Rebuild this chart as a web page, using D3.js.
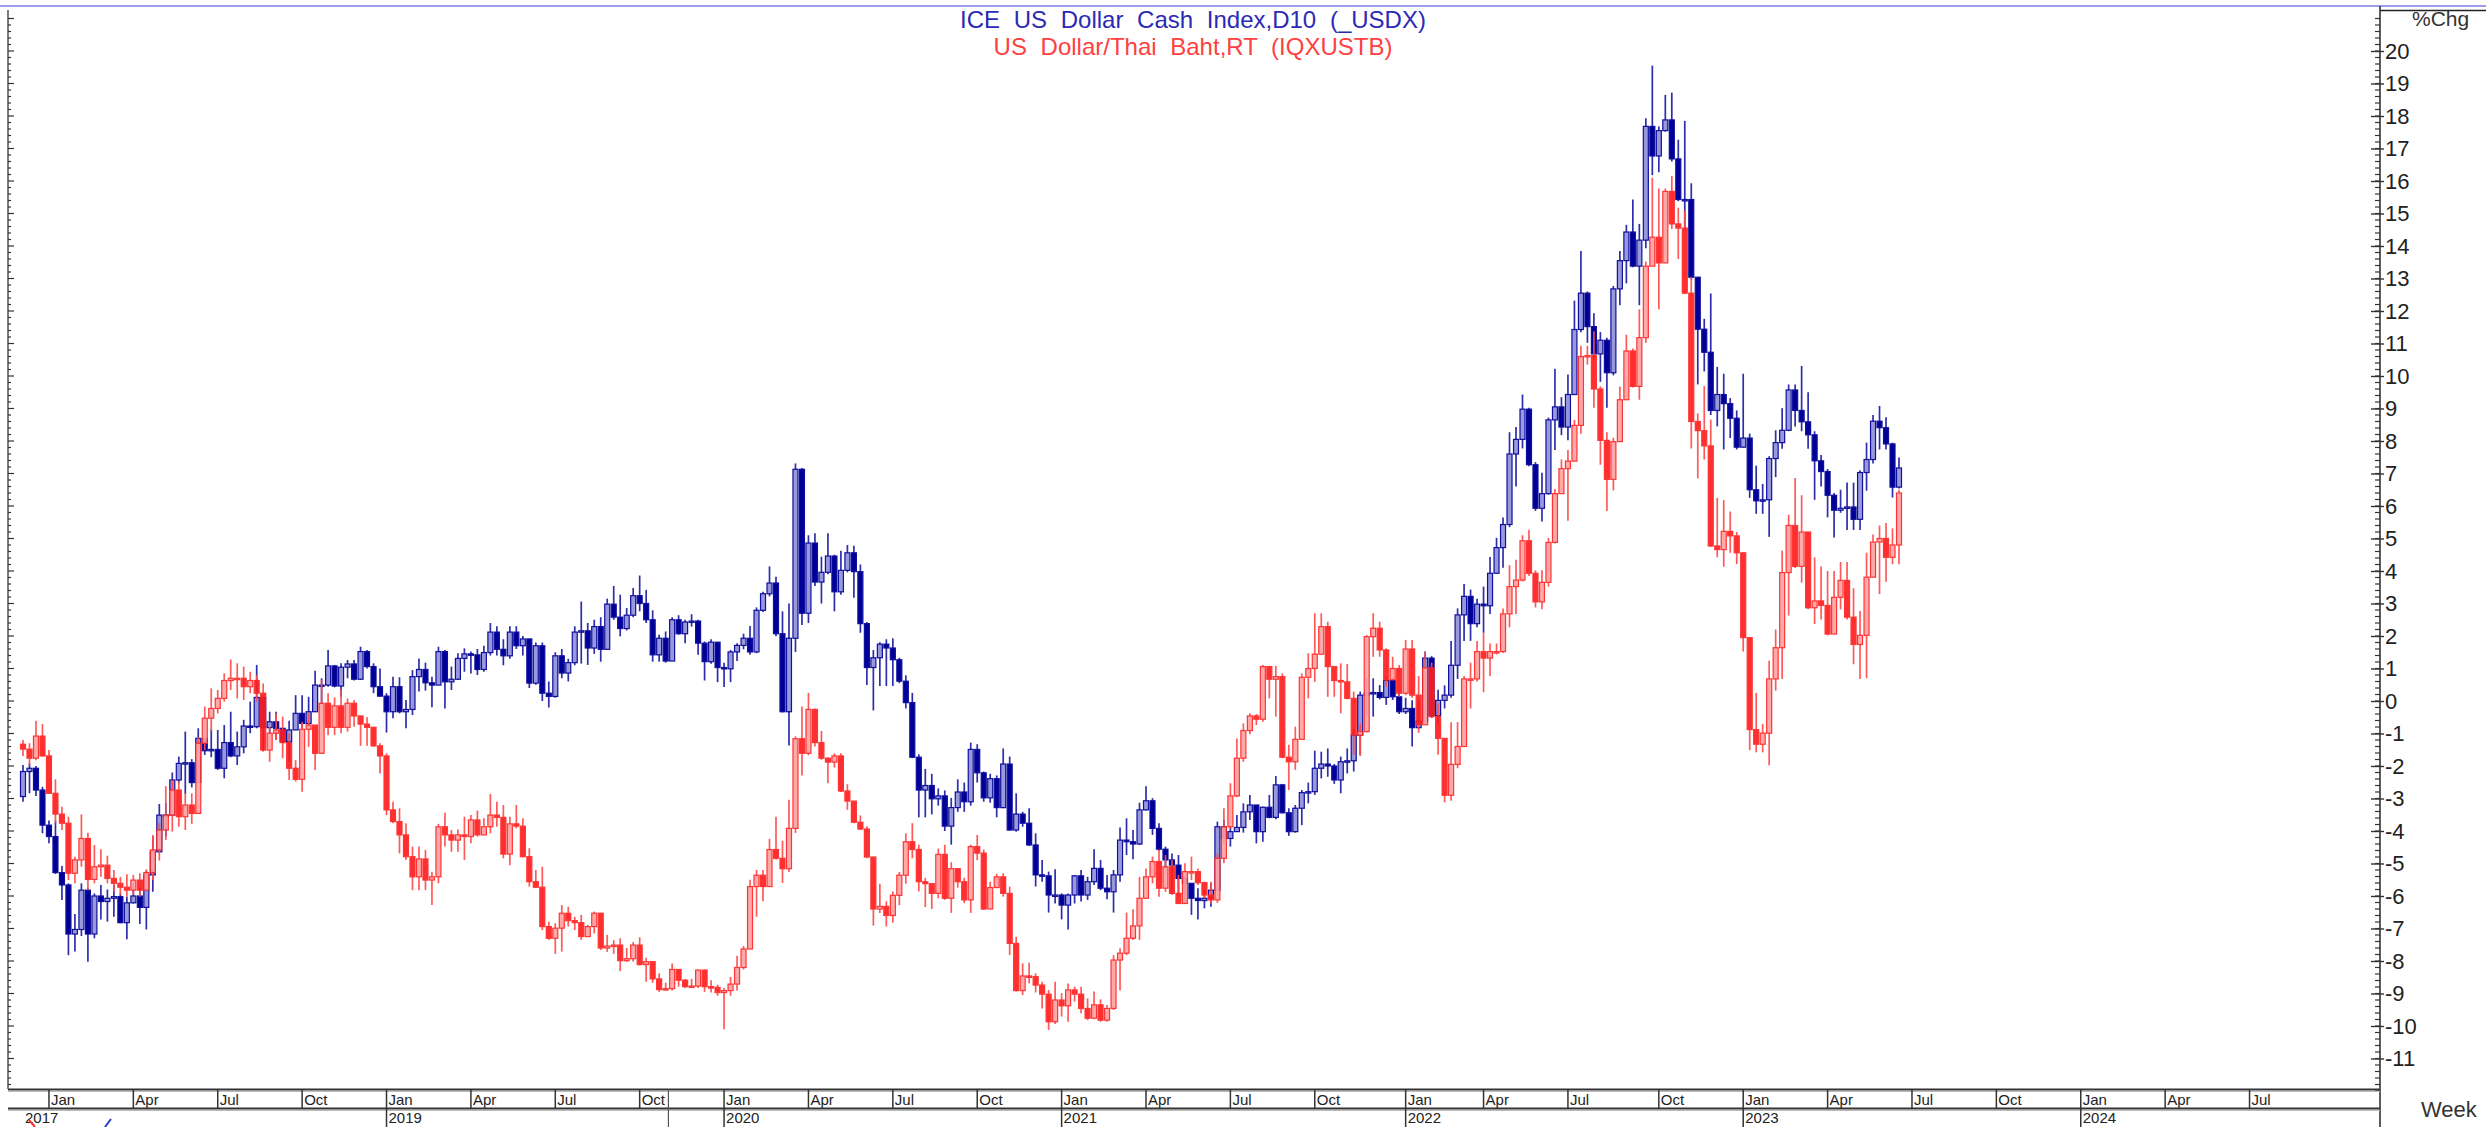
<!DOCTYPE html>
<html>
<head>
<meta charset="utf-8">
<script src="https://cdn.jsdelivr.net/npm/d3@7"></script>
<style>
  html, body { margin: 0; padding: 0; background: #ffffff; }
  svg { display: block; }
</style>
</head>
<body>
<svg id="chart" width="2486" height="1127"></svg>
<script>
// Weekly candles, % change: ICE US Dollar Index vs US Dollar / Thai Baht

// ---- ICE US Dollar Cash Index (_USDX), weekly, % change ----
const usdxFirstOpen = -2.94;
const usdxClose = [
  -2.17,-2.07,-2.74,-3.82,-4.17,-5.28,-5.66,-7.17,-7.03,-5.82,
  -7.17,-6.00,-6.17,-6.07,-6.02,-6.82,-6.21,-6.00,-6.35,-5.35,
  -4.64,-3.51,-3.51,-2.43,-1.92,-1.90,-2.51,-1.15,-1.53,-1.49,
  -2.07,-1.28,-1.69,-1.41,-0.77,-0.79,0.11,-0.82,-0.64,-0.84,
  -1.25,-0.89,-0.38,-0.69,-0.33,0.49,0.49,1.08,0.46,1.04,
  1.14,0.67,1.52,1.06,0.44,0.15,-0.33,0.44,-0.33,-0.26,
  0.75,0.97,0.56,0.49,1.52,0.59,0.67,1.31,1.45,1.42,
  0.97,1.49,2.12,1.59,1.39,2.12,1.70,1.91,0.55,1.70,
  0.24,0.14,1.39,0.86,1.18,2.12,2.16,1.63,2.29,1.59,
  2.98,2.58,2.23,2.64,3.24,3.00,2.50,1.42,1.93,1.23,
  2.50,2.07,2.43,2.46,1.78,1.21,1.81,1.03,0.99,1.51,
  1.71,1.93,1.51,2.79,3.30,3.63,2.07,-0.33,1.93,7.13,
  2.70,4.86,3.66,3.96,4.46,3.36,4.02,4.56,3.98,2.38,
  1.03,1.33,1.75,1.63,1.27,0.61,-0.05,-1.73,-2.74,-2.60,
  -3.01,-2.92,-3.85,-3.28,-2.80,-3.10,-1.49,-2.21,-2.98,-2.39,
  -3.28,-1.94,-3.97,-3.48,-3.76,-4.43,-5.35,-5.38,-5.97,-5.97,
  -6.28,-5.97,-5.38,-5.97,-5.56,-5.15,-5.76,-5.87,-5.35,-4.28,
  -4.33,-4.40,-3.35,-3.07,-3.92,-4.56,-4.89,-5.05,-5.46,-5.61,
  -6.07,-6.14,-6.07,-5.82,-3.87,-4.23,-4.02,-3.89,-3.41,-3.20,
  -4.02,-3.27,-3.58,-2.58,-3.44,-4.02,-3.30,-2.82,-2.79,-2.07,
  -1.94,-2.00,-2.43,-1.87,-1.84,-1.05,0.18,0.24,0.26,0.11,
  0.63,0.13,-0.33,-0.23,-0.82,-0.62,1.32,-0.45,0.02,0.18,
  1.10,2.65,3.22,2.38,2.98,2.93,3.93,4.72,5.43,7.60,
  8.05,8.98,7.27,5.93,6.38,8.65,9.05,8.43,9.43,11.43,
  12.55,11.52,10.68,11.10,10.10,12.68,13.55,14.43,13.38,14.18,
  17.68,16.77,17.55,17.88,16.68,15.43,15.43,13.04,11.44,10.73,
  8.94,9.43,9.15,8.70,7.81,8.09,6.50,6.16,6.19,7.46,
  7.95,8.33,9.57,8.94,8.59,8.19,7.39,7.06,6.33,5.87,
  5.93,5.97,5.59,7.03,7.43,8.61,8.41,7.91,6.58,7.17
];
const usdxHigh = [
  -1.97,-1.92,-2.00,-2.64,-3.68,-3.68,-5.08,-5.61,-6.55,-5.61,
  -5.76,-5.92,-5.66,-5.80,-5.66,-5.92,-6.02,-5.61,-5.76,-5.22,
  -4.17,-3.17,-3.13,-2.20,-1.71,-0.94,-1.79,-0.84,-1.15,-0.87,
  -0.89,-0.74,-0.33,-0.94,-0.58,-0.02,1.11,-0.28,-0.33,-0.33,
  -0.94,-0.61,0.18,0.18,0.13,0.93,0.70,1.57,1.11,1.16,
  1.26,1.26,1.67,1.57,1.16,1.00,0.24,0.75,0.73,0.03,
  0.95,1.31,1.18,0.75,1.67,1.57,1.06,1.47,1.62,1.52,
  1.60,1.70,2.40,2.30,1.90,2.30,2.30,2.00,1.90,1.80,
  1.80,0.60,1.50,1.60,1.30,2.30,3.06,2.40,2.50,2.58,
  3.15,3.54,3.27,2.86,3.48,3.86,3.42,2.79,2.04,2.14,
  2.58,2.64,2.50,2.67,2.50,1.83,1.90,1.81,1.18,1.57,
  1.78,2.07,2.31,2.88,3.36,4.14,3.82,2.76,3.00,7.31,
  7.17,5.10,5.16,4.44,5.16,4.50,4.62,4.80,4.78,4.20,
  2.43,1.57,1.81,1.90,1.93,1.33,0.79,0.25,-1.64,-2.09,
  -2.24,-2.69,-2.75,-2.98,-2.41,-2.51,-1.28,-1.33,-2.17,-2.24,
  -2.29,-1.46,-1.71,-2.84,-3.41,-3.30,-4.07,-4.89,-5.25,-5.18,
  -5.92,-5.92,-5.35,-5.20,-5.41,-4.56,-4.89,-5.35,-5.20,-3.89,
  -3.61,-3.97,-3.13,-2.62,-2.99,-3.76,-4.48,-4.69,-4.74,-5.41,
  -5.82,-5.76,-5.82,-5.61,-3.71,-3.66,-3.87,-3.51,-3.15,-2.89,
  -3.20,-3.25,-2.89,-2.31,-2.55,-3.30,-3.20,-2.74,-2.51,-1.53,
  -1.56,-1.46,-1.94,-1.71,-1.46,-0.84,0.29,0.70,0.70,0.49,
  0.75,0.70,0.24,0.10,0.02,0.02,1.52,1.38,0.35,0.48,
  1.85,2.85,3.60,3.43,3.15,3.52,4.43,5.02,5.65,8.27,
  8.43,9.43,9.02,7.35,7.02,8.72,10.22,9.35,10.05,12.32,
  13.85,12.60,11.93,11.35,11.18,12.77,13.85,14.65,15.43,14.68,
  17.93,19.55,17.68,18.65,18.72,17.27,17.85,15.93,11.76,11.76,
  12.54,10.28,10.07,9.32,8.94,10.07,8.23,7.24,6.68,7.53,
  8.33,9.01,9.74,9.74,10.31,9.50,8.30,7.57,7.14,6.40,
  6.50,6.72,6.72,7.10,7.95,8.80,9.08,8.73,7.95,7.49
];
const usdxLow = [
  -3.10,-2.84,-2.92,-4.07,-4.38,-5.32,-6.12,-7.82,-7.71,-7.23,
  -8.02,-7.30,-6.72,-6.79,-6.64,-6.84,-7.33,-6.23,-6.86,-7.03,
  -5.87,-4.09,-4.17,-2.86,-2.51,-2.86,-2.66,-1.35,-1.66,-1.73,
  -2.12,-2.38,-1.73,-1.97,-1.61,-0.99,-0.84,-1.51,-0.99,-1.20,
  -1.30,-1.87,-0.89,-0.84,-0.74,-0.17,-0.12,0.44,0.42,0.13,
  0.70,0.63,0.65,1.00,0.24,0.13,-0.97,-0.53,-0.38,-0.84,
  -0.43,0.29,0.32,-0.19,0.54,-0.23,0.34,0.65,0.90,0.85,
  0.80,0.90,1.40,1.40,1.10,1.30,1.60,1.40,0.40,0.50,
  0.00,-0.20,0.10,0.70,0.60,1.10,1.15,1.11,1.45,1.21,
  1.59,2.50,1.99,2.17,2.58,2.76,2.40,1.21,1.21,1.18,
  1.23,2.04,1.78,2.29,1.42,0.63,1.15,0.58,0.43,0.58,
  1.23,1.59,1.42,1.47,2.74,3.22,1.99,-0.35,-1.37,1.51,
  2.34,2.40,3.54,3.00,3.90,2.76,3.27,3.96,3.18,2.10,
  0.49,-0.29,0.46,0.46,0.46,0.55,-0.23,-1.76,-3.58,-3.58,
  -3.49,-3.22,-4.00,-4.42,-3.41,-3.41,-3.22,-2.51,-3.10,-3.13,
  -3.58,-3.30,-3.99,-4.02,-3.87,-4.46,-5.71,-5.56,-6.51,-6.23,
  -6.72,-7.03,-6.23,-6.17,-6.12,-5.66,-5.82,-6.10,-6.51,-5.56,
  -4.74,-4.87,-4.43,-3.37,-4.12,-4.61,-5.15,-5.92,-6.02,-6.23,
  -6.58,-6.72,-6.38,-6.33,-5.84,-4.38,-4.48,-4.02,-4.05,-3.66,
  -4.38,-4.33,-3.61,-3.64,-3.46,-4.15,-4.05,-3.82,-3.15,-2.89,
  -2.38,-2.33,-2.55,-2.84,-2.23,-2.17,-1.66,-0.48,-0.48,0.05,
  -0.12,0.03,-0.40,-0.40,-1.40,-0.85,-0.65,-0.52,-0.73,-0.23,
  0.10,0.68,1.85,1.85,2.27,2.10,2.68,4.02,4.10,5.35,
  6.60,7.77,7.22,5.85,5.52,6.35,7.72,8.18,8.02,9.43,
  11.35,11.02,10.52,9.82,9.02,10.02,12.18,12.85,13.35,12.18,
  13.93,16.18,16.27,17.52,16.60,15.38,14.52,12.97,9.74,10.14,
  8.80,8.45,7.74,8.09,7.74,7.88,6.25,5.76,5.76,5.05,
  6.89,7.76,8.30,8.45,8.30,7.76,6.19,6.60,5.65,5.03,
  5.79,5.26,5.26,5.26,6.47,7.31,7.74,7.74,6.26,6.54
];

// ---- US Dollar / Thai Baht (IQXUSTB), weekly, % change ----
const thbFirstOpen = -1.33;
const thbClose = [
  -1.48,-1.76,-1.08,-1.69,-2.84,-3.48,-3.76,-5.30,-4.89,-4.23,
  -5.49,-5.10,-5.05,-5.46,-5.61,-5.73,-5.82,-5.51,-5.82,-5.28,
  -4.58,-3.97,-3.51,-2.74,-3.56,-3.20,-3.46,-1.30,-0.53,-0.23,
  0.08,0.63,0.70,0.70,0.44,0.63,0.24,-1.51,-0.99,-0.89,
  -1.28,-2.07,-2.41,-0.87,-0.74,-1.61,-0.07,-0.81,-0.15,-0.81,
  -0.07,-0.46,-0.71,-0.81,-1.38,-1.69,-3.35,-3.71,-4.12,-4.79,
  -5.41,-4.86,-5.51,-5.41,-3.87,-4.12,-4.28,-4.12,-4.17,-3.66,
  -4.12,-3.87,-3.51,-3.58,-4.71,-3.78,-3.85,-4.79,-5.56,-5.73,
  -6.94,-7.30,-6.99,-6.53,-6.76,-6.82,-7.25,-6.94,-6.53,-7.60,
  -7.54,-7.51,-7.99,-7.93,-7.51,-8.11,-8.02,-8.55,-8.88,-8.85,
  -8.26,-8.59,-8.79,-8.77,-8.28,-8.79,-8.81,-8.97,-8.91,-8.71,
  -8.20,-7.63,-5.71,-5.36,-5.71,-4.57,-4.84,-5.16,-3.92,-1.16,
  -1.61,-0.26,-1.28,-1.76,-1.88,-1.69,-2.77,-3.08,-3.73,-3.94,
  -4.80,-6.40,-6.32,-6.60,-5.98,-5.36,-4.33,-4.57,-5.56,-5.62,
  -5.92,-4.72,-6.07,-5.16,-5.56,-6.12,-4.48,-4.68,-6.40,-5.74,
  -5.41,-5.92,-7.46,-8.91,-8.46,-8.48,-8.74,-9.02,-9.87,-9.20,
  -9.38,-8.89,-9.02,-9.46,-9.76,-9.35,-9.82,-9.46,-7.97,-7.76,
  -7.30,-6.92,-6.07,-5.41,-4.94,-5.76,-5.10,-5.92,-6.23,-5.25,
  -5.25,-5.59,-5.97,-6.12,-4.84,-3.87,-2.92,-1.76,-0.91,-0.46,
  -0.56,1.06,0.67,0.75,-1.73,-1.87,-1.18,0.73,1.00,1.44,
  2.29,1.06,0.63,0.59,0.08,-1.05,-0.94,1.98,2.24,1.57,
  0.65,1.00,0.24,1.60,0.18,-0.73,1.02,-0.48,-1.15,-2.90,
  -1.95,-1.40,0.68,0.68,1.52,1.32,1.52,1.52,2.68,3.52,
  3.72,4.93,3.93,3.05,3.65,4.88,6.38,7.15,7.38,8.48,
  10.60,10.63,9.60,8.02,6.82,7.98,9.27,10.77,9.68,11.18,
  13.38,14.27,13.48,15.68,14.68,14.55,12.55,8.60,8.32,7.85,
  4.77,4.66,5.22,5.08,4.56,1.95,-0.88,-1.33,-0.99,0.68,
  1.64,3.95,5.40,4.14,5.20,2.87,3.08,2.94,2.06,3.19,
  3.71,2.58,1.74,2.02,3.81,4.89,5.00,4.42,4.80,6.40
];
const thbHigh = [
  -1.20,-1.30,-0.61,-0.71,-1.51,-2.41,-3.25,-3.56,-4.79,-3.49,
  -4.05,-4.43,-4.56,-4.76,-5.20,-5.41,-5.33,-5.35,-5.30,-5.18,
  -4.12,-3.76,-2.62,-2.43,-2.48,-2.84,-2.84,-1.12,-0.17,0.39,
  0.34,0.85,1.28,1.16,1.06,0.90,0.80,0.54,-0.79,-0.38,
  -0.48,-0.99,-1.82,-0.64,-0.38,-0.79,0.65,0.24,0.11,0.36,
  0.08,0.03,-0.53,-0.50,-0.79,-1.30,-1.61,-3.10,-3.30,-3.76,
  -4.48,-4.48,-4.58,-5.25,-3.78,-3.44,-3.97,-3.95,-3.56,-3.51,
  -3.37,-3.61,-2.86,-3.10,-3.20,-3.56,-3.20,-3.61,-4.53,-5.20,
  -5.10,-6.79,-6.84,-6.28,-6.33,-6.64,-6.58,-6.89,-6.48,-6.52,
  -7.20,-7.36,-7.30,-7.60,-7.42,-7.27,-7.90,-8.14,-8.38,-8.67,
  -8.08,-8.26,-8.55,-8.55,-8.26,-8.26,-8.59,-8.73,-8.83,-8.49,
  -7.84,-7.54,-5.50,-5.20,-5.20,-4.24,-3.56,-4.30,-3.04,-1.09,
  -0.17,0.25,-0.23,-0.92,-1.73,-1.61,-1.61,-2.56,-3.10,-3.52,
  -3.85,-4.80,-5.62,-6.16,-5.86,-5.26,-4.07,-3.76,-4.42,-5.44,
  -5.68,-4.54,-4.42,-4.96,-5.14,-5.44,-4.42,-4.12,-4.57,-5.56,
  -5.32,-5.30,-5.71,-7.25,-8.07,-8.05,-8.38,-8.64,-8.89,-8.64,
  -8.99,-8.69,-8.79,-8.79,-9.15,-8.94,-9.18,-9.35,-7.82,-7.61,
  -6.51,-6.41,-5.41,-5.15,-4.79,-4.58,-4.74,-4.89,-5.35,-4.99,
  -4.79,-5.15,-5.56,-5.56,-4.69,-3.30,-2.53,-1.15,-0.69,-0.38,
  -0.40,1.11,1.06,1.08,0.85,-1.35,-0.79,0.85,1.47,2.70,
  2.70,2.44,1.00,1.16,1.14,0.29,-0.69,2.03,2.70,2.44,
  1.62,1.36,1.11,1.88,1.88,0.77,1.52,1.18,-0.07,-1.15,
  -0.65,-0.65,0.77,1.18,1.85,2.10,1.77,1.77,2.85,4.18,
  4.35,5.10,5.27,4.02,4.02,5.02,6.52,7.43,7.72,8.65,
  10.93,10.93,11.38,9.68,8.27,8.10,9.68,11.27,10.85,12.05,
  13.52,16.10,15.77,15.77,16.15,15.18,15.10,13.05,8.85,9.69,
  8.66,6.25,6.18,5.83,5.20,4.52,1.81,0.25,-0.71,1.24,
  2.20,4.63,5.73,6.86,6.33,4.77,4.42,4.14,4.00,4.00,
  4.28,4.28,3.47,2.77,4.56,5.12,5.40,5.48,5.31,6.50
];
const thbLow = [
  -1.69,-1.97,-1.82,-1.71,-2.86,-3.76,-3.97,-5.51,-5.61,-5.10,
  -5.82,-5.61,-5.41,-5.61,-5.87,-5.97,-6.02,-5.97,-6.02,-5.76,
  -5.51,-4.91,-4.28,-4.02,-3.87,-3.97,-3.78,-3.46,-1.51,-0.94,
  -0.38,-0.02,0.34,0.08,0.03,0.24,-0.02,-1.56,-1.87,-1.20,
  -1.76,-2.43,-2.48,-2.79,-1.41,-2.12,-1.61,-1.05,-1.05,-0.99,
  -0.94,-0.79,-1.38,-1.38,-1.41,-2.23,-3.51,-3.76,-4.69,-4.89,
  -5.82,-5.82,-5.82,-6.28,-5.61,-4.48,-4.64,-4.64,-4.89,-4.38,
  -4.17,-4.12,-4.07,-3.87,-4.84,-5.05,-3.92,-4.81,-5.71,-5.76,
  -7.05,-7.35,-7.78,-7.71,-6.94,-7.05,-7.35,-7.25,-7.15,-7.66,
  -7.72,-7.78,-8.31,-8.02,-8.02,-8.14,-8.64,-8.67,-8.95,-8.91,
  -8.91,-8.79,-8.83,-8.83,-8.83,-8.95,-8.97,-9.07,-10.10,-9.07,
  -8.91,-8.26,-7.60,-6.64,-6.16,-5.68,-4.88,-5.60,-5.26,-4.06,
  -2.29,-1.67,-1.40,-1.81,-2.53,-2.05,-2.80,-3.35,-3.76,-3.97,
  -4.84,-6.91,-6.52,-6.94,-6.82,-6.28,-5.62,-4.84,-5.86,-6.34,
  -6.40,-6.07,-6.12,-6.52,-5.74,-6.22,-6.52,-4.90,-6.43,-6.40,
  -5.74,-6.02,-7.82,-8.94,-9.05,-8.69,-8.97,-9.46,-10.12,-9.94,
  -9.71,-9.87,-9.25,-9.61,-9.82,-9.79,-9.87,-9.87,-9.51,-8.91,
  -7.82,-7.35,-7.35,-6.04,-5.61,-6.02,-5.87,-5.97,-6.25,-6.12,
  -5.51,-5.66,-6.07,-6.23,-6.21,-4.99,-3.92,-2.96,-1.87,-1.02,
  -0.74,-0.64,0.08,-0.48,-1.76,-2.74,-2.12,-1.20,0.08,0.59,
  1.52,0.13,0.13,-0.38,0.05,-1.66,-1.69,-0.97,1.36,1.36,
  0.44,0.65,0.13,0.18,0.10,-0.98,-0.57,-0.52,-1.65,-3.12,
  -3.07,-2.07,-1.40,-0.23,0.60,0.27,0.77,1.43,1.48,2.27,
  2.68,3.68,3.85,2.88,2.82,3.52,4.85,6.38,5.55,7.43,
  8.22,10.35,9.02,7.27,5.85,6.48,7.98,9.35,9.65,9.27,
  11.02,13.43,12.05,13.52,14.52,13.60,12.52,7.77,6.85,7.43,
  4.74,4.42,4.13,4.56,4.21,1.52,-1.51,-1.58,-1.58,-1.98,
  0.32,0.68,2.63,4.09,3.64,2.82,2.37,2.51,2.02,2.30,
  2.82,2.51,1.13,0.68,0.70,3.95,3.29,3.67,4.21,4.21
];

// ---- axis contents ----
const firstWeek = new Date(2017, 11, 8);          // Friday of the first weekly bar
const yTickValues = d3.range(-11, 21);             // labelled %Chg levels
const quarterNames = ["Jan", "Apr", "Jul", "Oct"];
const yearNames = ["2017", "2019", "2020", "2021", "2022", "2023", "2024"];
const yearStarts = [firstWeek, new Date(2019,0,1), new Date(2020,0,1), new Date(2021,0,1),
                    new Date(2022,0,1), new Date(2023,0,1), new Date(2024,0,1)];
const seriesTitles = ["ICE US Dollar Cash Index,D10 (_USDX)", "US Dollar/Thai Baht,RT (IQXUSTB)"];

// ---- layout ----
const W = 2486, H = 1127;
const plotLeft = 8, plotRight = 2380, plotTop = 8, plotBottom = 1089;
const rowMid = 1108;

const svg = d3.select("#chart");
const FONT = "'Liberation Sans', Arial, Helvetica, sans-serif";
const NARROW = "'Liberation Sans Narrow', 'Arial Narrow', 'Liberation Sans', Arial, sans-serif";

const weekDates = usdxClose.map((_, i) => d3.timeDay.offset(firstWeek, 7 * i));
const x = d3.scaleTime()
  .domain([firstWeek, weekDates[weekDates.length - 1]])
  .range([23, 1899]);
const y = d3.scaleLinear().domain([-10, 20]).range([1026, 51]);

function buildCandles(close, high, low, firstOpen) {
  return close.map((c, i) => {
    const o = i === 0 ? firstOpen : close[i - 1];
    return {
      date: weekDates[i], o, c,
      h: Math.max(high[i], o, c),
      l: Math.min(low[i], o, c)
    };
  });
}

const usdx = buildCandles(usdxClose, usdxHigh, usdxLow, usdxFirstOpen);
const thb = buildCandles(thbClose, thbHigh, thbLow, thbFirstOpen);

// frame lines at the top
svg.append("line").attr("x1", 0).attr("x2", W).attr("y1", 6).attr("y2", 6)
  .attr("stroke", "#7c7ce0").attr("stroke-width", 1.6);
svg.append("line").attr("x1", plotRight).attr("x2", W).attr("y1", 10.5).attr("y2", 10.5)
  .attr("stroke", "#222").attr("stroke-width", 1.4);

// clip for the candles
svg.append("defs").append("clipPath").attr("id", "plotClip")
  .append("rect").attr("x", plotLeft).attr("y", plotTop)
  .attr("width", plotRight - plotLeft).attr("height", plotBottom - plotTop);

function drawSeries(data, st) {
  const g = svg.append("g").attr("clip-path", "url(#plotClip)").attr("opacity", st.opacity);
  g.selectAll("line.wick").data(data).join("line")
    .attr("class", "wick")
    .attr("x1", d => x(d.date)).attr("x2", d => x(d.date))
    .attr("y1", d => y(d.h)).attr("y2", d => y(d.l))
    .attr("stroke", st.wick).attr("stroke-width", 1.7);
  g.selectAll("rect.body").data(data).join("rect")
    .attr("class", "body")
    .attr("x", d => x(d.date) - 2.5)
    .attr("width", 5)
    .attr("y", d => y(Math.max(d.o, d.c)))
    .attr("height", d => Math.max(1.4, Math.abs(y(d.o) - y(d.c))))
    .attr("fill", d => d.c >= d.o ? st.hollow : st.solid)
    .attr("stroke", st.edge)
    .attr("stroke-width", 1.2);
}

drawSeries(usdx, { wick: "#2e2eac", edge: "#10109c", solid: "#000098", hollow: "#9898dc", opacity: 1 });
drawSeries(thb,  { wick: "#ff4c4c", edge: "#ff2424", solid: "#ff1e1e", hollow: "#ffa2a2", opacity: 0.92 });

// titles
svg.append("text").attr("x", 1193).attr("y", 28).attr("text-anchor", "middle")
  .attr("font-family", FONT).attr("font-size", 24).attr("word-spacing", 7)
  .attr("fill", "#2a2ab4").text(seriesTitles[0]);
svg.append("text").attr("x", 1193).attr("y", 55).attr("text-anchor", "middle")
  .attr("font-family", FONT).attr("font-size", 24).attr("word-spacing", 7)
  .attr("fill", "#ff4040").text(seriesTitles[1]);

// right value axis
const minorVals = d3.range(-60, 106).map(k => k / 5);
const axisG = svg.append("g").attr("transform", `translate(${plotRight},0)`);
axisG.selectAll("line.minor").data(minorVals).join("line")
  .attr("class", "minor")
  .attr("x1", -5).attr("x2", 0)
  .attr("y1", d => y(d)).attr("y2", d => y(d))
  .attr("stroke", "#333").attr("stroke-width", 1.2);
const rightAxis = d3.axisRight(y)
  .tickValues(yTickValues)
  .tickSizeInner(0).tickSizeOuter(0)
  .tickPadding(5)
  .tickFormat(d => String(d));
axisG.call(rightAxis);
axisG.select(".domain").remove();
axisG.selectAll(".tick text")
  .attr("font-family", FONT).attr("font-size", 22).attr("fill", "#222");
axisG.selectAll(".tick").append("line")
  .attr("x1", -9).attr("x2", 4).attr("stroke", "#333").attr("stroke-width", 1.4);
axisG.append("line").attr("x1", 0).attr("x2", 0).attr("y1", 6).attr("y2", H)
  .attr("stroke", "#333").attr("stroke-width", 1.6);

svg.append("text").attr("x", 2412).attr("y", 26)
  .attr("font-family", FONT).attr("font-size", 21).attr("fill", "#333").text("%Chg");

// left edge scale (ticks only)
const leftG = svg.append("g").attr("transform", `translate(${plotLeft},0)`);
leftG.append("line").attr("x1", 0).attr("x2", 0).attr("y1", 10).attr("y2", plotBottom)
  .attr("stroke", "#444").attr("stroke-width", 1.4);
leftG.selectAll("line.lminor").data(minorVals.filter(v => y(v) > 10 && y(v) < plotBottom)).join("line")
  .attr("class", "lminor")
  .attr("x1", 0).attr("x2", d => Math.abs(d - Math.round(d)) < 1e-6 ? 6 : 3)
  .attr("y1", d => y(d)).attr("y2", d => y(d))
  .attr("stroke", "#333").attr("stroke-width", 1.2);

// time axis rows
const rowsG = svg.append("g");
[plotBottom + 0.5, rowMid + 0.5].forEach(yy => {
  rowsG.append("line").attr("x1", plotLeft).attr("x2", plotRight).attr("y1", yy).attr("y2", yy)
    .attr("stroke", "#333").attr("stroke-width", 2);
  rowsG.append("line").attr("x1", plotLeft).attr("x2", plotRight).attr("y1", yy + 2).attr("y2", yy + 2)
    .attr("stroke", "#bbb").attr("stroke-width", 1);
});

const quarters = d3.timeMonth.every(3).range(new Date(2018, 0, 1), new Date(2024, 7, 1));
const qPos = quarters.map(m => ({ m, px: x(d3.timeFriday.ceil(m)) }));
rowsG.selectAll("line.qdiv").data(qPos).join("line")
  .attr("class", "qdiv")
  .attr("x1", d => d.px).attr("x2", d => d.px)
  .attr("y1", plotBottom).attr("y2", rowMid)
  .attr("stroke", "#333").attr("stroke-width", 1.5);
rowsG.selectAll("text.qlab").data(qPos).join("text")
  .attr("class", "qlab")
  .attr("x", d => d.px + 2).attr("y", rowMid - 3)
  .attr("font-family", NARROW).attr("font-size", 15).attr("fill", "#222")
  .text(d => quarterNames[Math.floor(d.m.getMonth() / 3)]);

const yPos = yearStarts.map((d, i) => ({
  text: yearNames[i],
  px: i === 0 ? x(d) : x(d3.timeFriday.ceil(d)),
  divider: i > 0
}));
rowsG.selectAll("line.ydiv").data(yPos.filter(d => d.divider)).join("line")
  .attr("class", "ydiv")
  .attr("x1", d => d.px).attr("x2", d => d.px)
  .attr("y1", rowMid).attr("y2", H)
  .attr("stroke", "#333").attr("stroke-width", 1.5);
rowsG.selectAll("text.ylab").data(yPos).join("text")
  .attr("class", "ylab")
  .attr("x", d => d.px + 2).attr("y", H - 4)
  .attr("font-family", NARROW).attr("font-size", 15).attr("fill", "#222")
  .text(d => d.text);

// session break marker in the time rows
const breakX = x(new Date(2019, 10, 4));
rowsG.append("line").attr("x1", breakX).attr("x2", breakX)
  .attr("y1", plotBottom).attr("y2", H).attr("stroke", "#555").attr("stroke-width", 1.2);

// small scroll markers at the bottom left
svg.append("line").attr("x1", 29).attr("y1", 1120).attr("x2", 35).attr("y2", 1127)
  .attr("stroke", "#ff3030").attr("stroke-width", 2);
svg.append("line").attr("x1", 105).attr("y1", 1127).attr("x2", 111).attr("y2", 1119)
  .attr("stroke", "#2040c0").attr("stroke-width", 2);

svg.append("text").attr("x", 2421).attr("y", 1117)
  .attr("font-family", FONT).attr("font-size", 22).attr("fill", "#333").text("Week");
</script>
</body>
</html>
